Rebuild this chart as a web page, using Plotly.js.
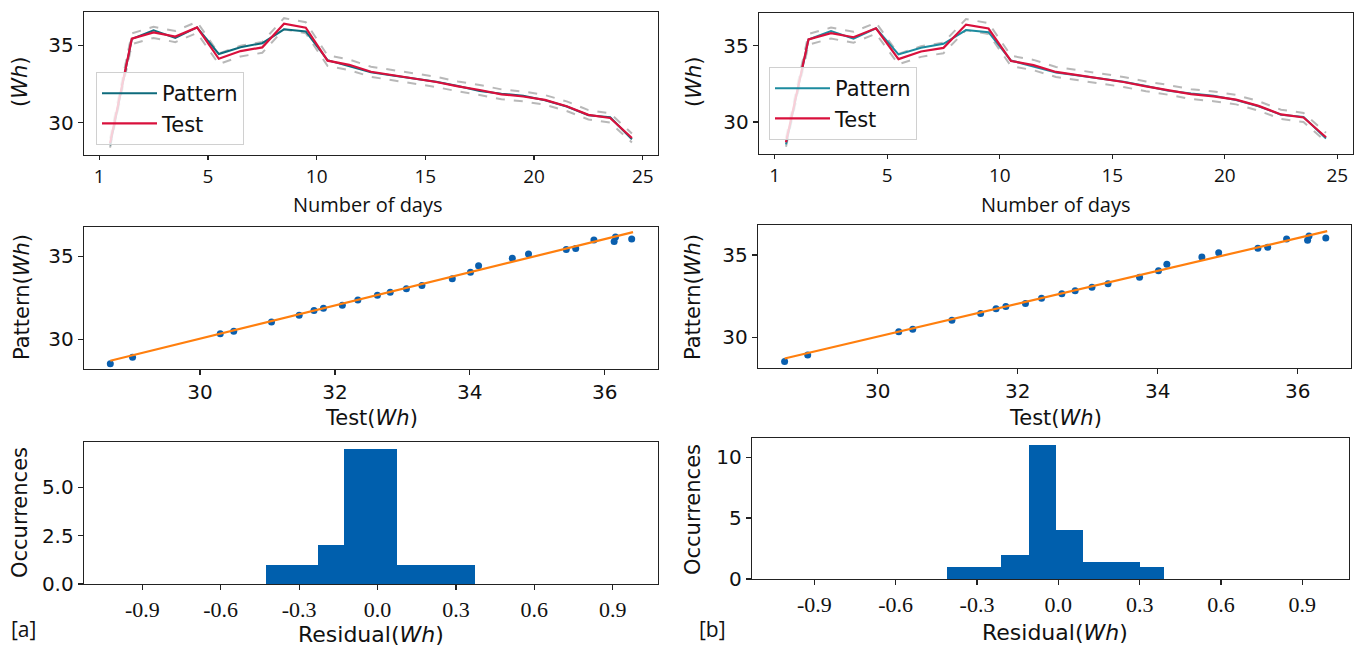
<!DOCTYPE html>
<html>
<head>
<meta charset="utf-8">
<script src="https://cdn.plot.ly/plotly-3.0.1.min.js"></script>
<style>html,body{margin:0;padding:0;background:#fff;}#chart{width:1359px;height:646px;}</style>
</head>
<body>
<div id="chart"></div>
<script>
// ---- data ----
const dayPos = [0.5,1.5,2.5,3.5,4.5,5.5,6.5,7.5,8.5,9.5,10.5,11.5,12.5,13.5,14.5,15.5,16.5,17.5,18.5,19.5,20.5,21.5,22.5,23.5,24.5];
const dayTickVals = [0,5,10,15,20,25];
const dayTickText = ["1","5","10","15","20","25"];

const testWh    = [28.67,35.43,35.84,35.57,36.16,34.13,34.63,34.87,36.40,36.14,34.01,33.74,33.29,33.06,32.82,32.63,32.34,32.11,31.83,31.69,31.47,31.06,30.50,30.30,29.00];
const patternWh = [28.53,35.42,35.98,35.48,36.16,34.44,34.88,35.14,36.04,35.90,34.04,33.65,33.25,33.05,32.83,32.65,32.37,32.05,31.87,31.73,31.45,31.04,30.48,30.34,28.92];
const bandUpper = [28.96,35.78,36.20,35.93,36.52,34.47,34.98,35.22,36.76,36.50,34.35,34.08,33.62,33.39,33.15,32.96,32.66,32.43,32.15,32.01,31.78,31.37,30.81,30.60,29.29];
const bandLower = [28.38,35.08,35.48,35.21,35.80,33.79,34.28,34.52,36.04,35.78,33.67,33.40,32.96,32.73,32.49,32.30,32.02,31.79,31.51,31.37,31.16,30.75,30.20,30.00,28.71];

const fitX = [28.67, 36.42];
const fitY = [28.71, 36.46];

const resTickVals = [-0.9,-0.6,-0.3,0.0,0.3,0.6,0.9];
const resTickText = ["-0.9","-0.6","-0.3","0.0","0.3","0.6","0.9"];

const histEdgesA  = [-0.425,-0.325,-0.226,-0.127,-0.027,0.073,0.173,0.273,0.373];
const histCountsA = [1,1,2,7,7,1,1,1];
const histEdgesB  = [-0.41,-0.31,-0.21,-0.11,-0.01,0.09,0.195,0.30,0.39];
const histCountsB = [1,1,2,11,4,1.4,1.4,1];

// ---- layout helpers ----
const W = 1359, H = 646;
function xd(l, r){ return [l/W, r/W]; }
function yd(t, b){ return [1-b/H, 1-t/H]; }

const tealA = '#0e6b7c', tealB = '#1d8b9f', red = '#d9103c', gray = 'rgba(160,160,160,0.75)';
const dotBlue = '#0a5fae', orange = '#ff7f0e', barBlue = '#005fad';

function centers(e){ const c=[]; for(let i=0;i<e.length-1;i++) c.push((e[i]+e[i+1])/2); return c; }
function widths(e){ const w=[]; for(let i=0;i<e.length-1;i++) w.push(e[i+1]-e[i]); return w; }

const traces = [];
function linePanel(xa, ya, teal, legendName){
  traces.push({x:dayPos, y:bandUpper, xaxis:xa, yaxis:ya, mode:'lines', line:{color:gray, width:2, dash:'dash'}, showlegend:false, hoverinfo:'skip'});
  traces.push({x:dayPos, y:bandLower, xaxis:xa, yaxis:ya, mode:'lines', line:{color:gray, width:2, dash:'dash'}, showlegend:false, hoverinfo:'skip'});
  traces.push({x:dayPos, y:patternWh, xaxis:xa, yaxis:ya, mode:'lines', name:'Pattern', line:{color:teal, width:2}, legend:legendName});
  traces.push({x:dayPos, y:testWh, xaxis:xa, yaxis:ya, mode:'lines', name:'Test', line:{color:red, width:2.2}, legend:legendName});
}
function scatterPanel(xa, ya){
  traces.push({x:testWh, y:patternWh, xaxis:xa, yaxis:ya, mode:'markers', marker:{color:dotBlue, size:7}, showlegend:false});
  traces.push({x:fitX, y:fitY, xaxis:xa, yaxis:ya, mode:'lines', line:{color:orange, width:2.2}, showlegend:false});
}
function histPanel(xa, ya, edges, counts){
  traces.push({type:'bar', x:centers(edges), y:counts, width:widths(edges), xaxis:xa, yaxis:ya, marker:{color:barBlue, line:{width:0}}, showlegend:false});
}

linePanel('x','y',tealA,'legend');
linePanel('x2','y2',tealB,'legend2');
scatterPanel('x3','y3');
scatterPanel('x4','y4');
histPanel('x5','y5',histEdgesA,histCountsA);
histPanel('x6','y6',histEdgesB,histCountsB);

const sans = 'DejaVu Sans, sans-serif';
const narrow = 'Open Sans, sans-serif';
const serif = 'Liberation Serif, serif';

function ax(domain, range, extra){
  return Object.assign({domain:domain, range:range, showgrid:false, zeroline:false, showline:true, mirror:true,
    linecolor:'#222', linewidth:1.3, ticks:'outside', ticklen:5, tickcolor:'#222', tickwidth:1.2,
    tickfont:{family:sans, size:20, color:'#111'}, fixedrange:true}, extra||{});
}

const dayTickFont = {family:narrow,size:19,color:'#111'};
const layout = {
  width:W, height:H, margin:{l:0,r:0,t:0,b:0}, paper_bgcolor:'#fff', plot_bgcolor:'#fff',
  bargap:0, barmode:'overlay', hovermode:false,
  xaxis:  ax(xd(84,658),  [-0.7,25.7], {anchor:'y',  tickvals:dayTickVals, ticktext:dayTickText, tickfont:dayTickFont, ticklen:4}),
  yaxis:  ax(yd(12,155),  [27.9,37.16],{anchor:'x',  tickvals:[30,35]}),
  xaxis2: ax(xd(759,1353),[-0.7,25.7], {anchor:'y2', tickvals:dayTickVals, ticktext:dayTickText, tickfont:dayTickFont, ticklen:4}),
  yaxis2: ax(yd(13,154),  [27.9,37.16],{anchor:'x2', tickvals:[30,35]}),
  xaxis3: ax(xd(84,658),  [28.28,36.79],{anchor:'y3', tickvals:[30,32,34,36]}),
  yaxis3: ax(yd(227,369), [28.21,36.77],{anchor:'x3', tickvals:[30,35]}),
  xaxis4: ax(xd(758,1351),[28.29,36.76],{anchor:'y4', tickvals:[30,32,34,36]}),
  yaxis4: ax(yd(225,368), [28.13,36.83],{anchor:'x4', tickvals:[30,35]}),
  xaxis5: ax(xd(84,658),  [-1.123,1.073],{anchor:'y5', tickvals:resTickVals, ticktext:resTickText, tickfont:{family:serif,size:22,color:'#111'}}),
  yaxis5: ax(yd(442,584), [0,7.35],{anchor:'x5', tickvals:[0,2.5,5], ticktext:['0.0','2.5','5.0']}),
  xaxis6: ax(xd(752,1349),[-1.13,1.072],{anchor:'y6', tickvals:resTickVals, ticktext:resTickText, tickfont:{family:serif,size:22,color:'#111'}}),
  yaxis6: ax(yd(438,579), [0,11.57],{anchor:'x6', tickvals:[0,5,10]}),
  legend:  {x:96/W,  y:1-72/H, xanchor:'left', yanchor:'top', bgcolor:'rgba(255,255,255,0.8)', bordercolor:'#d0d0d0', borderwidth:1, font:{family:sans,size:21,color:'#111'}, itemwidth:55, tracegroupgap:0},
  legend2: {x:769/W, y:1-67/H, xanchor:'left', yanchor:'top', bgcolor:'rgba(255,255,255,0.8)', bordercolor:'#d0d0d0', borderwidth:1, font:{family:sans,size:21,color:'#111'}, itemwidth:55, tracegroupgap:0},
  annotations: []
};

function ann(text, x, y, opts){
  layout.annotations.push(Object.assign({text:text, x:x/W, y:1-y/H, xref:'paper', yref:'paper', showarrow:false,
    xanchor:'center', yanchor:'middle', font:{family:sans, size:21, color:'#111'}}, opts||{}));
}
// axis titles
ann('(<i>Wh</i>)', 20, 82, {textangle:-90});
ann('(<i>Wh</i>)', 694, 82, {textangle:-90});
ann('Number of days', 368, 204, {font:{family:narrow,size:20,color:'#111'}});
ann('Number of days', 1056, 204, {font:{family:narrow,size:20,color:'#111'}});
ann('Pattern(<i>Wh</i>)', 22, 297, {textangle:-90});
ann('Pattern(<i>Wh</i>)', 693, 297, {textangle:-90});
ann('Test(<i>Wh</i>)', 371, 418);
ann('Test(<i>Wh</i>)', 1055, 418);
ann('Occurrences', 20, 513, {textangle:-90});
ann('Occurrences', 693, 510, {textangle:-90});
ann('Residual(<i>Wh</i>)', 371, 634, {font:{family:sans,size:22,color:'#111'}});
ann('Residual(<i>Wh</i>)', 1055, 632, {font:{family:sans,size:22,color:'#111'}});
ann('[a]', 23, 629, {font:{family:narrow,size:21,color:'#111'}});
ann('[b]', 712, 629, {font:{family:narrow,size:21,color:'#111'}});

Plotly.newPlot('chart', traces, layout, {staticPlot:true, displayModeBar:false});
</script>
</body>
</html>
